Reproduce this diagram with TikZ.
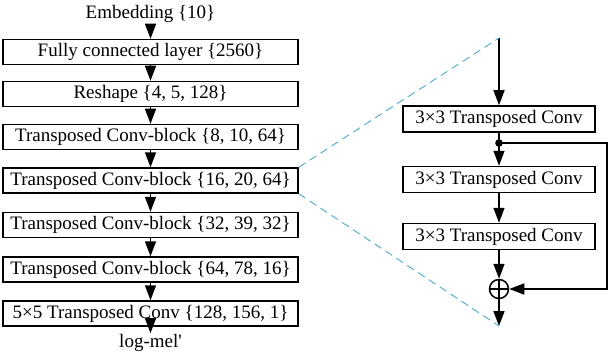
\documentclass[tikz,border=0pt]{standalone}
\usepackage{fontspec}
\setmainfont{Liberation Serif}
\usetikzlibrary{arrows.meta}
\definecolor{zoomblue}{HTML}{4BACC6}
\begin{document}
\begin{tikzpicture}[x=1pt,y=-1pt,
  lbl/.style={inner sep=1pt, font=\fontsize{19}{22}\selectfont},
  lbox/.style={draw, line width=1.5pt, minimum width=295pt, minimum height=25pt,
    inner sep=0pt, font=\fontsize{19}{22}\selectfont},
  rbox/.style={draw, line width=1.5pt, minimum width=192pt, minimum height=26pt,
    inner sep=0pt, font=\fontsize{19}{22}\selectfont},
  flow/.style={line width=1.5pt, -{Triangle[length=15pt,width=11pt]}},
  wire/.style={line width=1.5pt},
  zoomline/.style={draw=zoomblue, line width=0.9pt, dash pattern=on 8pt off 5pt}]
\useasboundingbox (0,0) rectangle (609,358);

% main decoder stack
\node[lbl]  (emb) at (150.5,14)  {Embedding \{10\}};
\node[lbox] (b1)  at (150.5,52)  {Fully connected layer \{2560\}};
\node[lbox] (b2)  at (150.5,94)  {Reshape \{4, 5, 128\}};
\node[lbox] (b3)  at (150.5,137) {Transposed Conv-block \{8, 10, 64\}};
\node[lbox] (b4)  at (150.5,180.5) {Transposed Conv-block \{16, 20, 64\}};
\node[lbox] (b5)  at (150.5,225) {Transposed Conv-block \{32, 39, 32\}};
\node[lbox] (b6)  at (150.5,269.5) {Transposed Conv-block \{64, 78, 16\}};
\node[lbox] (b7)  at (150.5,313.5) {5×5 Transposed Conv \{128, 156, 1\}};
\node[lbl]  (out) at (150.5,343) {log-mel\textquotesingle};

\draw[flow] (emb) -- (b1);
\draw[flow] (b1) -- (b2);
\draw[flow] (b2) -- (b3);
\draw[flow] (b3) -- (b4);
\draw[flow] (b4) -- (b5);
\draw[flow] (b5) -- (b6);
\draw[flow] (b6) -- (b7);
\draw[flow] (b7) -- (out);

% expanded Conv-block
\coordinate (bin)  at (499,38);
\coordinate (bout) at (499,326);
\node[rbox] (r1) at (499,119)   {3×3 Transposed Conv};
\node[rbox] (r2) at (499,179.5) {3×3 Transposed Conv};
\node[rbox] (r3) at (499,236.5) {3×3 Transposed Conv};
\node[circle, draw, line width=1.5pt, minimum size=19pt, inner sep=0pt] (sum) at (499,289) {};
\draw[wire] (sum.north) -- (sum.south) (sum.west) -- (sum.east);
\coordinate (tap) at (499,143);
\coordinate (rt)  at (607,143);
\coordinate (rb)  at (607,289);

\draw[flow] (bin) -- (r1);
\draw[flow] (r1) -- (r2);
\fill (tap) circle (3.8pt);
\draw[flow] (r2) -- (r3);
\draw[flow] (r3) -- (sum);
\draw[flow] (sum) -- (bout);
\draw[flow] (tap) -- (rt) -- (rb) -- (sum);

% zoom guides
\draw[zoomline] (b4.north east) -- (bin);
\draw[zoomline] (b4.south east) -- (bout);
\end{tikzpicture}
\end{document}
